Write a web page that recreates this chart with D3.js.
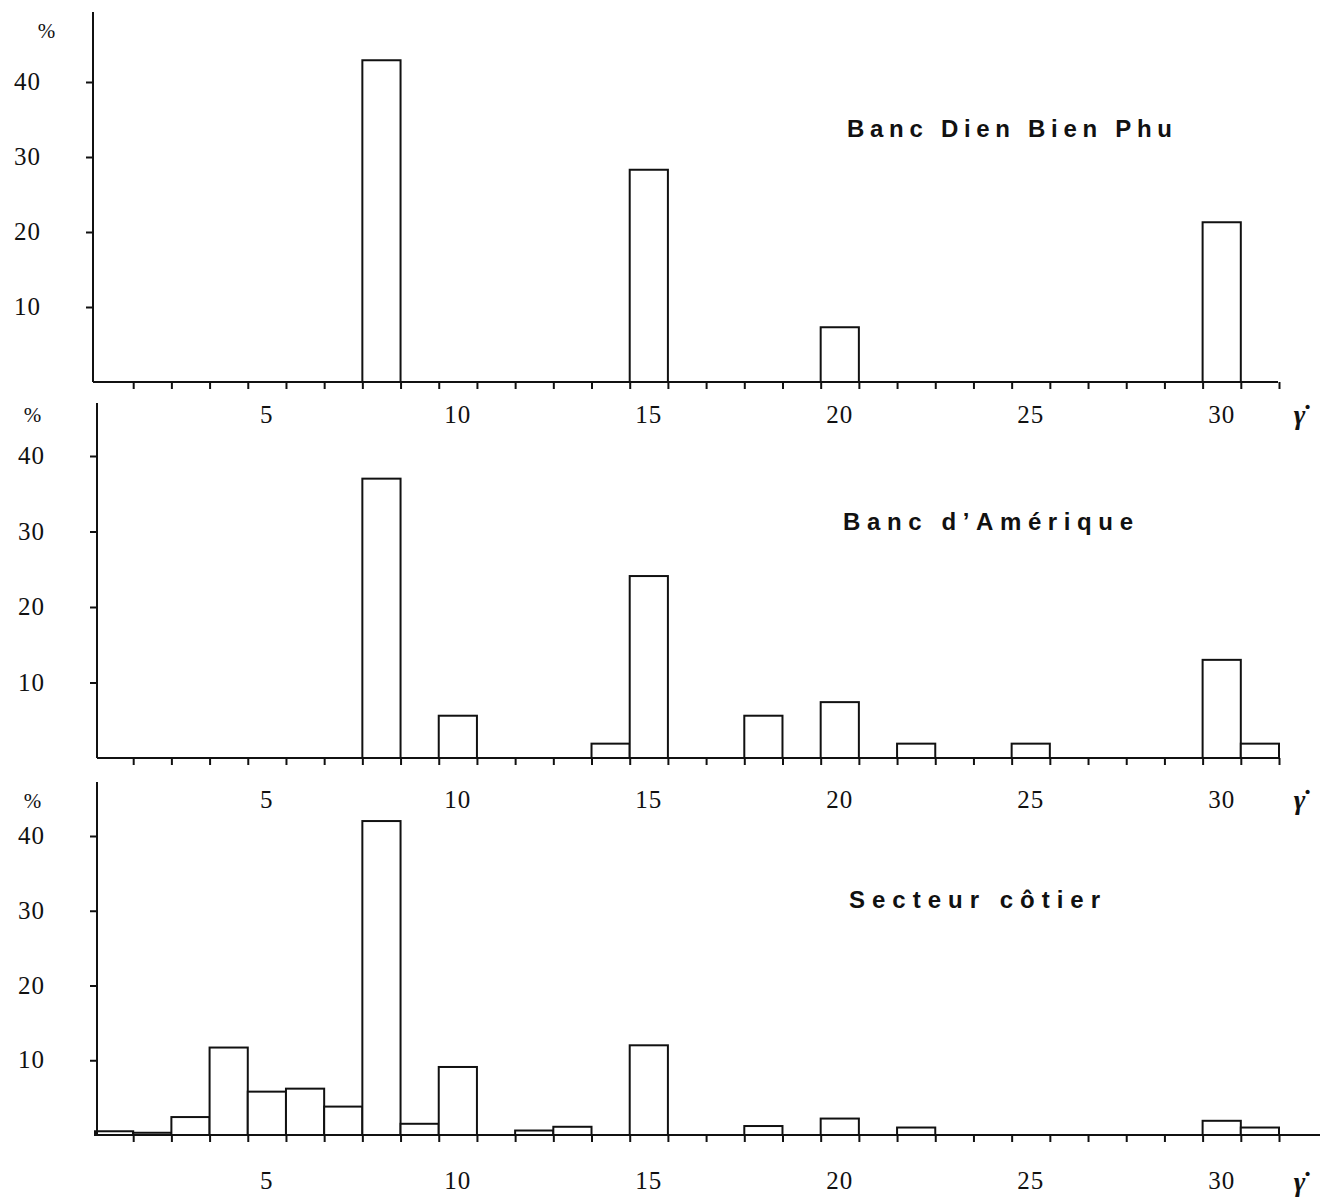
<!DOCTYPE html>
<html>
<head>
<meta charset="utf-8">
<script src="https://cdn.jsdelivr.net/npm/d3@7"></script>
<style>
  body { margin: 0; background: #fff; }
  .num { font-family: "Liberation Serif", serif; font-size: 25px; letter-spacing: 1px; fill: #111; }
  .title { font-family: "Liberation Sans", Arial, sans-serif; font-weight: bold; font-size: 24px; fill: #111; }
  .axis path, .axis line { stroke: #111; stroke-width: 2; }
</style>
</head>
<body>
<div id="chart-area"></div>
<script>
// values (% per class)
var dienBienPhuBins = [8, 15, 20, 30];
var dienBienPhuPct  = [42.9, 28.3, 7.3, 21.3];

var ameriqueBins = [8, 10, 14, 15, 18, 20, 22, 25, 30, 31];
var ameriquePct  = [37.0, 5.6, 1.9, 24.1, 5.6, 7.4, 1.9, 1.9, 13.0, 1.9];

var cotierBins = [1, 2, 3, 4, 5, 6, 7, 8, 9, 10, 12, 13, 15, 18, 20, 22, 30, 31];
var cotierPct  = [0.5, 0.3, 2.4, 11.7, 5.8, 6.2, 3.8, 42.0, 1.5, 9.1, 0.6, 1.1, 12.0, 1.2, 2.2, 1.0, 1.9, 1.0];

var titles = ['Banc Dien Bien Phu', 'Banc d\u2019Am\u00e9rique', 'Secteur c\u00f4tier'];
var xTickLabels = [5, 10, 15, 20, 25, 30];
var yTickValues = [10, 20, 30, 40];
var xLabel = '\u03b3\u0307';

var def = { width: 1323, height: 1197 };

// layout of the three stacked panels
var panels = [
    { bins: dienBienPhuBins, pct: dienBienPhuPct, y0: 382, y40: 82, axisX: 93, axisTop: 12, xEnd: 1278,
      xLabY: 423, pctX: 47, pctY: 38, tX: 847, tY: 137, tW: 325, gY: 424 },
    { bins: ameriqueBins, pct: ameriquePct, y0: 758, y40: 456, axisX: 97, axisTop: 403, xEnd: 1278,
      xLabY: 808, pctX: 33, pctY: 422, tX: 843, tY: 530, tW: 290, gY: 809 },
    { bins: cotierBins, pct: cotierPct, y0: 1135, y40: 836, axisX: 97, axisTop: 782, xEnd: 1320,
      xLabY: 1189, pctX: 33, pctY: 808, tX: 849, tY: 908, tW: 251, gY: 1191 }
];

var svg = d3.select('#chart-area').append('svg')
    .attr('width', def.width)
    .attr('height', def.height);

var x = d3.scaleLinear()
    .domain([0.5, 31.5])
    .range([95, 1279]);

var boundaries = d3.range(1.5, 32, 1);

panels.forEach(function(p, i) {
    var g = svg.append('g');

    var y = d3.scaleLinear()
        .domain([0, 40])
        .range([p.y0, p.y40]);

    // bars
    var data = p.bins.map(function(b, j) { return { bin: b, pct: p.pct[j] }; });
    g.selectAll('rect.bar')
        .data(data)
        .enter()
        .append('rect')
        .attr('class', 'bar')
        .attr('x', function(d) { return x(d.bin - 0.5); })
        .attr('width', function(d) { return x(d.bin + 0.5) - x(d.bin - 0.5); })
        .attr('y', function(d) { return y(d.pct); })
        .attr('height', function(d) { return y(0) - y(d.pct); })
        .attr('fill', '#fff')
        .attr('stroke', '#111')
        .attr('stroke-width', 2);

    // x axis : ticks at class boundaries
    var xAx = d3.axisBottom(x)
        .tickValues(boundaries)
        .tickSize(7)
        .tickSizeOuter(0)
        .tickFormat('');
    var xUnit = g.append('g')
        .attr('class', 'axis')
        .attr('transform', 'translate(0,' + p.y0 + ')')
        .call(xAx);
    xUnit.select('.domain').remove();
    xUnit.append('line')
        .attr('x1', p.axisX).attr('x2', p.xEnd)
        .attr('y1', 0).attr('y2', 0);

    // x labels at class centres
    g.selectAll('text.xlab')
        .data(xTickLabels)
        .enter()
        .append('text')
        .attr('class', 'num xlab')
        .attr('x', function(d) { return x(d); })
        .attr('y', p.xLabY)
        .attr('text-anchor', 'middle')
        .text(function(d) { return d; });

    g.append('text')
        .attr('class', 'num')
        .attr('x', 1300)
        .attr('y', p.gY)
        .attr('text-anchor', 'middle')
        .style('font-style', 'italic')
        .style('font-weight', 'bold')
        .style('font-size', '28px')
        .text(xLabel);

    // y axis
    var yAx = d3.axisLeft(y)
        .tickValues(yTickValues)
        .tickSize(7)
        .tickSizeOuter(0)
        .tickFormat('');
    var yUnit = g.append('g')
        .attr('class', 'axis')
        .attr('transform', 'translate(' + p.axisX + ',0)')
        .call(yAx);
    yUnit.select('.domain').remove();
    yUnit.append('line')
        .attr('x1', 0).attr('x2', 0)
        .attr('y1', p.y0).attr('y2', p.axisTop);

    g.selectAll('text.ylab')
        .data(yTickValues)
        .enter()
        .append('text')
        .attr('class', 'num ylab')
        .attr('x', p.axisX - 52)
        .attr('y', function(d) { return y(d) + 8; })
        .attr('text-anchor', 'end')
        .text(function(d) { return d; });

    g.append('text')
        .attr('class', 'num')
        .attr('x', p.pctX)
        .attr('y', p.pctY)
        .attr('text-anchor', 'middle')
        .style('font-size', '21px')
        .text('%');

    // panel title
    g.append('text')
        .attr('class', 'title')
        .attr('x', p.tX)
        .attr('y', p.tY)
        .attr('textLength', p.tW)
        .attr('lengthAdjust', 'spacing')
        .text(titles[i]);
});
</script>
</body>
</html>
